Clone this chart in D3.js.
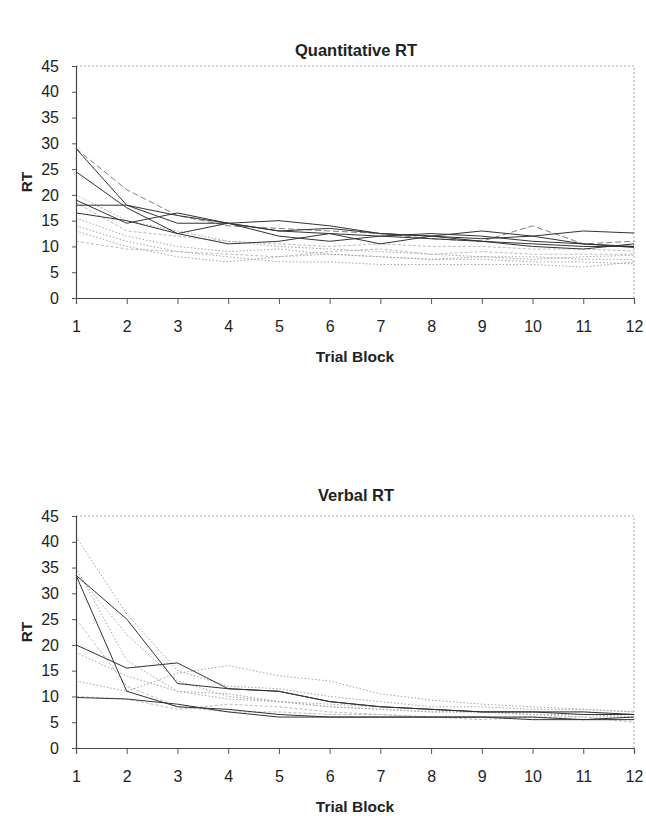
<!DOCTYPE html>
<html>
<head>
<meta charset="utf-8">
<script src="https://cdn.jsdelivr.net/npm/d3@7"></script>
<style>
  html, body { margin: 0; padding: 0; background: #fff; }
  svg { display: block; font-family: "Liberation Sans", Arial, sans-serif; }
</style>
</head>
<body>
<svg id="chart" width="646" height="816"></svg>
<script>
// Trial blocks on the x axis
const blocks = [1, 2, 3, 4, 5, 6, 7, 8, 9, 10, 11, 12];
const yTicks = [0, 5, 10, 15, 20, 25, 30, 35, 40, 45];

// Quantitative RT, one array per participant
const q1 = [29, 18, 16, 14.5, 13, 12.5, 12, 11.5, 11, 10.5, 10, 10];
const q2 = [24.5, 17.5, 12.5, 14.5, 15, 14, 12.5, 12, 11, 10, 9.5, 10.5];
const q3 = [18, 18, 14.5, 14.5, 13, 13.5, 12.5, 12, 11.5, 12, 10.5, 10];
const q4 = [19, 14.5, 16.5, 14.5, 12, 11, 12, 12.5, 12, 11, 10.5, 9.8];
const q5 = [16.5, 15, 12.5, 10.5, 11, 12.5, 10.5, 12, 13, 12, 13, 12.6];
const q6 = [29, 21, 16, 14, 13.5, 13, 12.5, 11.5, 11, 14, 10.5, 11];
const q7 = [15.5, 12, 10, 9, 9.5, 8.5, 8, 7.5, 7.5, 7, 7, 6.6];
const q8 = [14, 11, 9, 8, 7, 7, 6.5, 6.5, 6.5, 6.5, 6, 7];
const q9 = [13, 10, 8, 7, 8, 8.5, 8, 7.5, 8, 7.5, 8, 8.3];
const q10 = [11, 9.5, 9, 8.5, 8, 9, 9.5, 8.5, 9, 8.5, 8.5, 8.5];
const q11 = [18.5, 13, 12, 11, 10.5, 10, 10.5, 10, 10, 9.5, 9.5, 9.1];
const q12 = [20, 15, 13, 11, 10, 9.5, 9, 8.5, 8, 8, 7.5, 7.5];

// Verbal RT, one array per participant
const v1 = [41, 26, 15, 12, 11.5, 10, 9, 8, 8, 7.5, 7.5, 7];
const v2 = [33.5, 25, 12.5, 11.5, 11, 9, 8, 7.5, 7, 7, 7, 6.5];
const v3 = [33.5, 11, 8, 7.5, 6.5, 6, 6, 6, 6, 5.5, 5.5, 5.5];
const v4 = [20, 15.5, 16.5, 11.5, 11, 9, 8, 7.5, 7, 7, 6.5, 6.5];
const v5 = [9.8, 9.5, 8.5, 7, 6, 6, 6, 6, 6, 6, 5.5, 6];
const v6 = [35, 17, 11, 10.5, 9, 8.5, 8, 7.5, 7, 7, 7, 6.5];
const v7 = [34, 22, 13, 10, 9, 8, 7.5, 7, 7, 6.5, 6.5, 6];
const v8 = [18.5, 14, 11, 9.5, 9, 8, 7.5, 7, 7, 6.5, 6, 6];
const v9 = [13, 11, 14.5, 16, 14, 13, 10.5, 9.3, 8.5, 8, 7.5, 7];
const v10 = [10, 9.5, 7.5, 8.5, 8, 7, 6.5, 6, 5.5, 6, 6, 5];
const v11 = [25, 12, 8, 7, 7, 6.5, 6.5, 6, 6, 6, 5.5, 5.5];

// Line styles: dark solid, mid dashed, light dotted
const styles = {
  dark:   { stroke: "#333",    width: 1,   dash: null },
  dashed: { stroke: "#808080", width: 1,   dash: "6,3" },
  dotted: { stroke: "#a5a5a5", width: 1,   dash: "1.5,2" },
  light:  { stroke: "#bdbdbd", width: 1,   dash: "3,2" }
};

const quantSeries = [
  { values: q7, style: "dotted" }, { values: q8, style: "dotted" },
  { values: q9, style: "dotted" }, { values: q10, style: "light" },
  { values: q11, style: "light" }, { values: q12, style: "dotted" },
  { values: q6, style: "dashed" },
  { values: q1, style: "dark" }, { values: q2, style: "dark" },
  { values: q3, style: "dark" }, { values: q4, style: "dark" },
  { values: q5, style: "dark" }
];
const verbSeries = [
  { values: v6, style: "dotted" }, { values: v7, style: "dotted" },
  { values: v8, style: "dotted" }, { values: v9, style: "dotted" },
  { values: v10, style: "light" }, { values: v11, style: "light" },
  { values: v1, style: "dotted" },
  { values: v2, style: "dark" }, { values: v3, style: "dark" },
  { values: v4, style: "dark" }, { values: v5, style: "dark" }
];

const svg = d3.select("#chart");

function drawPanel(title, series, top, titleY) {
  const left = 76, right = 634, plotTop = top, plotBottom = top + 232;
  const x = d3.scaleLinear().domain([1, 12]).range([left, right]);
  const y = d3.scaleLinear().domain([0, 45]).range([plotBottom, plotTop]);
  const g = svg.append("g");

  // Title
  g.append("text")
    .attr("x", 356).attr("y", titleY)
    .attr("text-anchor", "middle")
    .attr("font-weight", "bold").attr("font-size", 16.5)
    .attr("fill", "#222")
    .text(title);

  // Plot frame (top and right edges, faint dotted)
  g.append("path")
    .attr("d", `M${left},${plotTop}H${right}V${plotBottom}`)
    .attr("fill", "none").attr("stroke", "#aaa")
    .attr("stroke-dasharray", "2,2").attr("stroke-width", 1);

  // Lines
  const line = d3.line().x((d, i) => x(blocks[i])).y(d => y(d));
  series.forEach(s => {
    const st = styles[s.style];
    g.append("path")
      .datum(s.values)
      .attr("d", line)
      .attr("fill", "none")
      .attr("stroke", st.stroke)
      .attr("stroke-width", st.width)
      .attr("stroke-dasharray", st.dash);
  });

  // Axes
  const yAxis = d3.axisLeft(y).tickValues(yTicks).tickSize(4).tickPadding(13);
  const ya = g.append("g").attr("transform", `translate(${left},0)`).call(yAxis);
  const xAxis = d3.axisBottom(x).tickValues(blocks).tickSize(6).tickPadding(17);
  const xa = g.append("g").attr("transform", `translate(0,${plotBottom})`).call(xAxis);
  [ya, xa].forEach(a => {
    a.select(".domain").attr("stroke", "#444").attr("stroke-width", 1.2);
    a.selectAll(".tick line").attr("stroke", "#555");
    a.selectAll(".tick text").attr("font-size", 16).attr("fill", "#222")
      .attr("font-family", "'Liberation Sans', Arial, sans-serif");
  });

  // Axis titles
  g.append("text")
    .attr("transform", `translate(27,${(plotTop + plotBottom) / 2}) rotate(-90)`)
    .attr("text-anchor", "middle").attr("dy", "0.35em")
    .attr("font-weight", "bold").attr("font-size", 15.5).attr("fill", "#222")
    .text("RT");
  g.append("text")
    .attr("x", 355).attr("y", plotBottom + 64)
    .attr("text-anchor", "middle")
    .attr("font-weight", "bold").attr("font-size", 15.5).attr("fill", "#222")
    .text("Trial Block");
}

drawPanel("Quantitative RT", quantSeries, 66, 56);
drawPanel("Verbal RT", verbSeries, 516, 501);
</script>
</body>
</html>
